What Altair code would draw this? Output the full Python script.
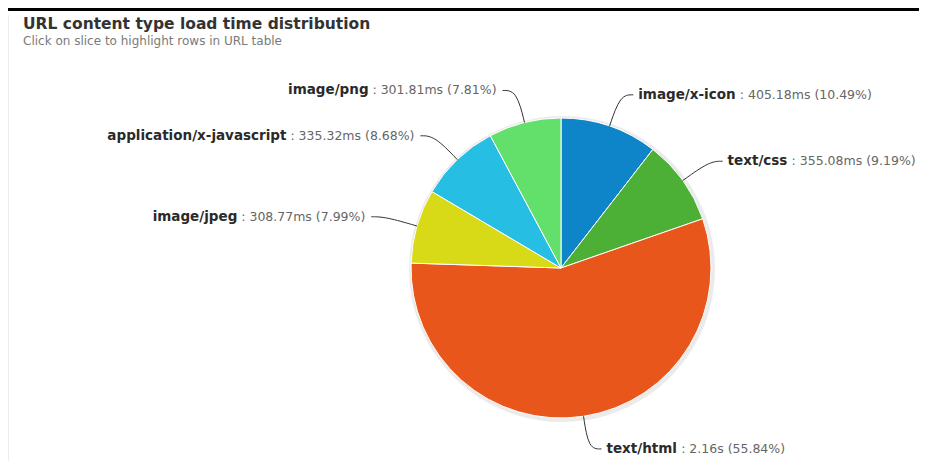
import altair as alt
import pandas as pd

# ---- data ----
categories = ["image/x-icon", "text/css", "text/html", "image/jpeg",
              "application/x-javascript", "image/png"]
load_ms = [405.18, 355.08, 2160.0, 308.77, 335.32, 301.81]
percent = [10.49, 9.19, 55.84, 7.99, 8.68, 7.81]
colors = ["#0d85c8", "#4caf36", "#e9561c", "#d9da17", "#26bee2", "#63df6c"]
title_text = "URL content type load time distribution"
subtitle_text = "Click on slice to highlight rows in URL table"

# ---- layout constants ----
W, H, PAD_TOP = 911, 403, 50
CX, CY = 553, 210          # pie centre inside the plot area
R = 150                    # pie radius
RL = 183                   # label radius
NAME_SIZE, VAL_SIZE = 13.5, 12.5

# approximate advance widths (em) for DejaVu Sans Bold / Regular
BOLD_W = {"a": .675, "c": .593, "e": .678, "g": .716, "h": .712, "i": .343,
          "j": .343, "l": .343, "m": 1.042, "n": .712, "o": .687, "p": .716,
          "r": .493, "s": .595, "t": .478, "v": .652, "x": .662, "/": .365,
          "-": .416}
REG_W = {d: .636 for d in "0123456789"}
REG_W.update({".": .318, " ": .318, ":": .337, "m": .974, "s": .521,
              "(": .390, ")": .390, "%": .950})


def tw(s, table, size):
    return sum(table.get(c, 0.6) for c in s) * size


def time_text(ms):
    return f"{ms / 1000:.2f}s" if ms >= 1000 else f"{ms:.2f}ms"


value_text = [f": {time_text(m)} ({p:.2f}%)" for m, p in zip(load_ms, percent)]
df = pd.DataFrame({
    "category": categories,
    "pct": percent,
    "order": list(range(len(categories))),
    "value_text": value_text,
    "namew": [tw(c, BOLD_W, NAME_SIZE) for c in categories],
    "valw": [tw(v, REG_W, VAL_SIZE) for v in value_text],
})
GAP = REG_W[" "] * VAL_SIZE

color_scale = alt.Scale(domain=categories, range=colors)

base = alt.Chart(df).transform_window(
    cum="sum(pct)", sort=[alt.SortField("order")], frame=[None, 0]
).transform_joinaggregate(
    total="sum(pct)"
).transform_calculate(
    ang="2*PI*(datum.cum - datum.pct/2)/datum.total"
).transform_calculate(
    right="sin(datum.ang) >= 0",
    bx=f"{CX} + {RL}*sin(datum.ang)",
    by=f"{CY} - {RL}*cos(datum.ang)",
    ex=f"{CX} + {R}*sin(datum.ang)",
    ey=f"{CY} - {R}*cos(datum.ang)",
).transform_calculate(
    lx="datum.bx + (datum.right ? 18 : -20)",
    ax="datum.bx + (datum.right ? 13 : -14)",
).transform_calculate(
    name_x=f"datum.right ? datum.lx : datum.lx - datum.valw - {GAP}",
    val_x=f"datum.right ? datum.lx + datum.namew + {GAP} : datum.lx",
)

shadow = alt.Chart(df).mark_arc(radius=R + 3, opacity=0.08, color="#000").encode(
    theta=alt.Theta("pct:Q", stack=True),
    order=alt.Order("order:O"),
    x=alt.value(CX + 1), y=alt.value(CY + 1),
)

pie = alt.Chart(df).mark_arc(radius=R, stroke="#ffffff", strokeWidth=1).encode(
    theta=alt.Theta("pct:Q", stack=True),
    order=alt.Order("order:O"),
    color=alt.Color("category:N", scale=color_scale, legend=None),
    x=alt.value(CX), y=alt.value(CY),
)

connectors = base.transform_fold(
    ["p0", "p1", "p2"], as_=["pt", "dummy"]
).transform_calculate(
    px="datum.pt == 'p0' ? datum.ax : (datum.pt == 'p1' ? datum.bx : datum.ex)",
    py="datum.pt == 'p2' ? datum.ey : datum.by",
).mark_line(color="#333333", strokeWidth=1, interpolate="basis").encode(
    x=alt.X("px:Q", scale=None, axis=None),
    y=alt.Y("py:Q", scale=None, axis=None),
    detail="category:N",
    order=alt.Order("pt:N"),
)


def labels(side_expr, align):
    names = base.transform_filter(side_expr).mark_text(
        align=align, baseline="middle", font="DejaVu Sans", fontWeight="bold",
        fontSize=NAME_SIZE, color="#2a2a2a"
    ).encode(
        x=alt.X("name_x:Q", scale=None, axis=None),
        y=alt.Y("by:Q", scale=None, axis=None),
        text="category:N",
    )
    vals = base.transform_filter(side_expr).mark_text(
        align=align, baseline="middle", font="DejaVu Sans",
        fontSize=VAL_SIZE, color="#666666"
    ).encode(
        x=alt.X("val_x:Q", scale=None, axis=None),
        y=alt.Y("by:Q", scale=None, axis=None),
        text="value_text:N",
    )
    return names + vals


right_labels = labels("datum.right", "left")
left_labels = labels("!datum.right", "right")

heading = pd.DataFrame({"title": [title_text], "subtitle": [subtitle_text]})
title_mark = alt.Chart(heading).mark_text(
    align="left", baseline="alphabetic", font="DejaVu Sans", fontWeight="bold",
    fontSize=15.5, color="#333333"
).encode(x=alt.value(15), y=alt.value(-29), text="title:N")
subtitle_mark = alt.Chart(heading).mark_text(
    align="left", baseline="alphabetic", font="DejaVu Sans",
    fontSize=12, color="#7a7a7a"
).encode(x=alt.value(15), y=alt.value(-13), text="subtitle:N")

deco = pd.DataFrame({"k": [0]})
top_line = alt.Chart(deco).mark_rule(color="#000000", strokeWidth=3).encode(
    x=alt.value(0), x2=alt.value(W), y=alt.value(-PAD_TOP + 1.5)
)
left_border = alt.Chart(deco).mark_rule(color="#ededed", strokeWidth=1).encode(
    x=alt.value(0.5), y=alt.value(-43), y2=alt.value(H)
)

chart = alt.layer(
    top_line, left_border, title_mark, subtitle_mark,
    shadow, pie, connectors, right_labels, left_labels
).properties(
    width=W, height=H,
    background="#ffffff",
    padding={"left": 0, "top": PAD_TOP, "right": 0, "bottom": 0},
    autosize=alt.AutoSizeParams(type="none"),
).configure_view(strokeWidth=0, stroke="transparent")

chart.save("out.html", embed_options={"renderer": "svg", "actions": False})
